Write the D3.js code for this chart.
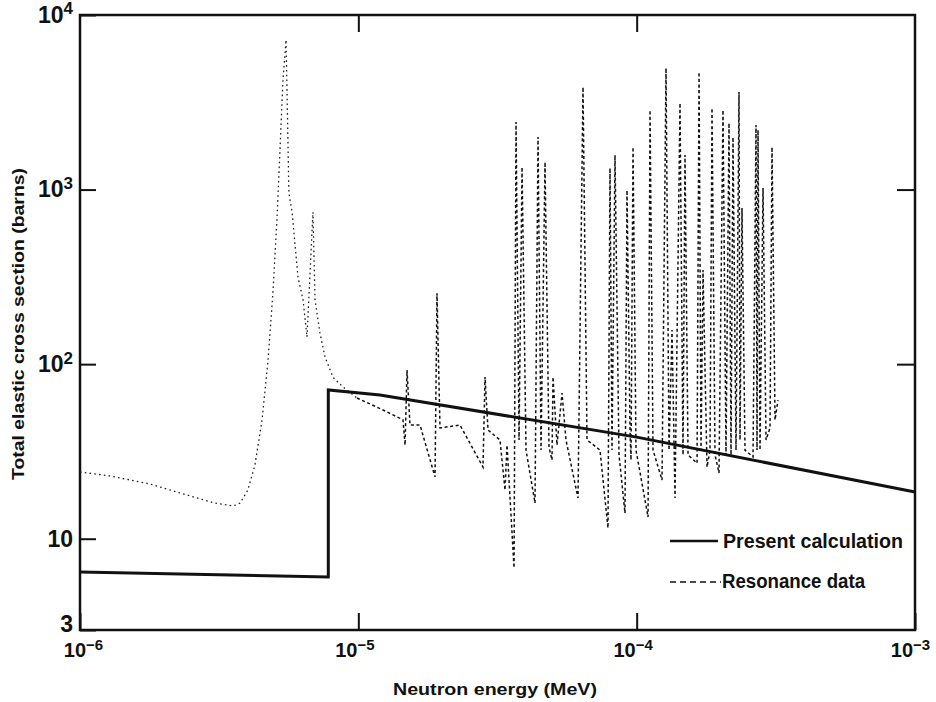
<!DOCTYPE html>
<html>
<head>
<meta charset="utf-8">
<script src="https://cdn.jsdelivr.net/npm/d3@7"></script>
<style>
  body { margin: 0; background: #fff; }
  text { font-family: "Liberation Sans", Arial, sans-serif; font-weight: bold; fill: #111; }
</style>
</head>
<body>
<div id="chart"></div>
<script>
// tick values and labels [base, exponent]
const xTicks = [1e-6, 1e-5, 1e-4, 1e-3];
const xTickLabels = [['10', '\u22126'], ['10', '\u22125'], ['10', '\u22124'], ['10', '\u22123']];
const yTicks = [3, 10, 100, 1000, 10000];
const yTickLabels = [['3', ''], ['10', ''], ['10', '2'], ['10', '3'], ['10', '4']];

// present calculation (MeV, barns)
const calcEnergy = [1e-6, 7.8e-6, 7.8e-6, 1.196e-5, 1e-4, 1e-3];
const calcSigma = [6.45, 6.03, 71.1, 66.5, 38.2, 18.5];

// resonance data, low energy part (MeV, barns)
const resonanceLow = [
  [1.00e-6, 24.1], [1.28e-6, 22.9], [1.78e-6, 20.6], [2.48e-6, 17.6], [3.05e-6, 16.0],
  [3.55e-6, 15.4], [3.76e-6, 16.0], [4.01e-6, 19.0], [4.25e-6, 26.4], [4.51e-6, 48],
  [4.74e-6, 106], [4.94e-6, 266], [5.10e-6, 670], [5.23e-6, 1680], [5.36e-6, 4240],
  [5.50e-6, 7200], [5.63e-6, 955], [5.78e-6, 743], [6.07e-6, 315], [6.33e-6, 233],
  [6.54e-6, 143], [6.87e-6, 743], [6.99e-6, 233], [7.28e-6, 151], [7.59e-6, 110],
  [8.11e-6, 84], [8.81e-6, 74], [9.89e-6, 64]
];

// resonance data, resolved resonance region (MeV, barns)
const resonanceHigh = [
  [9.89e-6, 64], [1.227e-5, 54.6], [1.447e-5, 48],
  [1.472e-5, 34.4], [1.496e-5, 92.5], [1.533e-5, 44.8], [1.666e-5, 44.8],
  [1.886e-5, 22.6], [1.917e-5, 255], [1.965e-5, 43.1], [2.319e-5, 44.8],
  [2.805e-5, 25.7], [2.852e-5, 84.4], [2.924e-5, 41.9], [3.228e-5, 36.8],
  [3.365e-5, 19.0], [3.421e-5, 34.4],
  [3.626e-5, 6.8], [3.686e-5, 2435], [3.779e-5, 36.8],
  [3.874e-5, 1345], [4.004e-5, 32.2],
  [4.313e-5, 16.0], [4.422e-5, 1998], [4.533e-5, 32.2],
  [4.685e-5, 1437], [4.842e-5, 33.5],
  [4.964e-5, 28.2], [5.005e-5, 84.4], [5.174e-5, 34.4],
  [5.393e-5, 68.3], [5.573e-5, 36.8],
  [6.155e-5, 17.1], [6.415e-5, 3865], [6.631e-5, 36.8], [7.383e-5, 32.2],
  [7.888e-5, 11.5], [8.020e-5, 1328], [8.154e-5, 32.2],
  [8.359e-5, 1576], [8.640e-5, 30.2],
  [9.080e-5, 14.0], [9.232e-5, 993], [9.464e-5, 41.9],
  [9.543e-5, 28.2], [9.703e-5, 1751], [9.946e-5, 32.2],
  [1.0986e-4, 13.3], [1.1169e-4, 2853], [1.1450e-4, 32.2],
  [1.2333e-4, 21.7], [1.2748e-4, 4965], [1.3069e-4, 32.2],
  [1.3398e-4, 157], [1.3735e-4, 17.1], [1.4313e-4, 3129], [1.4672e-4, 30.2],
  [1.4917e-4, 1576], [1.5293e-4, 30.2],
  [1.6479e-4, 27.1], [1.6754e-4, 4710], [1.7029e-4, 32.2],
  [1.7313e-4, 346], [1.7895e-4, 25.7], [1.8345e-4, 32.2],
  [1.8651e-4, 2930], [1.9119e-4, 30.2],
  [1.9762e-4, 23.8], [2.0427e-4, 2853], [2.0939e-4, 30.2],
  [2.1466e-4, 2404], [2.1824e-4, 30.2],
  [2.2189e-4, 1998], [2.2746e-4, 32.2],
  [2.3317e-4, 3618], [2.3510e-4, 36.8],
  [2.3902e-4, 784], [2.4502e-4, 32.2],
  [2.6183e-4, 29.4], [2.6841e-4, 2341], [2.7064e-4, 32.2],
  [2.7289e-4, 2192], [2.7745e-4, 32.2],
  [2.8442e-4, 1020], [2.9157e-4, 36.8],
  [3.0138e-4, 43.1], [3.0640e-4, 1751], [3.1409e-4, 47.9], [3.2198e-4, 62.3]
];

const legendLabels = ['Present calculation', 'Resonance data'];

const width = 936, height = 702;
const margin = { top: 15, left: 80, bottom: 72, right: 21 };

// scales
const x = d3.scaleLog().domain([1e-6, 1e-3]).range([margin.left, width - margin.right]);
const y = d3.scaleLog().domain([3, 1e4]).range([height - margin.bottom, margin.top]);

const svg = d3.select('#chart').append('svg')
  .attr('width', width)
  .attr('height', height);

const line = d3.line()
  .x(d => x(d[0]))
  .y(d => y(d[1]));

// turn tick text into base + superscript
function supLabels(g, ticks, labels, size, supSize) {
  g.selectAll('.tick text').each(function (d) {
    const lab = labels[ticks.indexOf(d)];
    const t = d3.select(this).text(null)
      .attr('font-size', size)
      .attr('font-family', '"Liberation Sans", Arial, sans-serif')
      .attr('font-weight', 'bold')
      .attr('fill', '#111');
    t.append('tspan').text(lab[0]);
    if (lab[1]) t.append('tspan').attr('dy', '-0.5em').attr('font-size', supSize).text(lab[1]);
  });
}

// axes
const gx = svg.append('g')
  .attr('transform', `translate(0,${height - margin.bottom})`)
  .call(d3.axisBottom(x).tickValues(xTicks).tickSizeInner(-17).tickSizeOuter(0).tickPadding(13))
  .call(g => g.select('.domain').remove());
supLabels(gx, xTicks, xTickLabels, 20, 15);
gx.selectAll('.tick text').attr('dx', d => d === 1e-6 ? 3 : (d === 1e-3 ? -5 : -4));

const gy = svg.append('g')
  .attr('transform', `translate(${margin.left},0)`)
  .call(d3.axisLeft(y).tickValues(yTicks).tickSizeInner(-16).tickSizeOuter(0).tickPadding(7))
  .call(g => g.select('.domain').remove());
supLabels(gy, yTicks, yTickLabels, 23, 17);
gy.selectAll('.tick text').filter(d => d === 3).attr('y', -6);

svg.append('g')
  .attr('transform', `translate(0,${margin.top})`)
  .call(d3.axisTop(x).tickValues(xTicks.slice(1, 3)).tickSizeInner(-17).tickSizeOuter(0).tickFormat(''))
  .call(g => g.select('.domain').remove());

svg.append('g')
  .attr('transform', `translate(${width - margin.right},0)`)
  .call(d3.axisRight(y).tickValues(yTicks.slice(2, 4)).tickSizeInner(-18).tickSizeOuter(0).tickFormat(''))
  .call(g => g.select('.domain').remove());

svg.selectAll('.tick line').attr('stroke', '#111').attr('stroke-width', 2);

// frame
svg.append('rect')
  .attr('x', margin.left)
  .attr('y', margin.top)
  .attr('width', width - margin.left - margin.right)
  .attr('height', height - margin.top - margin.bottom)
  .attr('fill', 'none')
  .attr('stroke', '#111')
  .attr('stroke-width', 2.5);

// resonance data
svg.append('path')
  .datum(resonanceLow)
  .attr('d', line)
  .attr('fill', 'none')
  .attr('stroke', '#222')
  .attr('stroke-width', 1.3)
  .attr('stroke-dasharray', '1.6,3.2');

svg.append('path')
  .datum(resonanceHigh)
  .attr('d', line)
  .attr('fill', 'none')
  .attr('stroke', '#111')
  .attr('stroke-width', 1.5)
  .attr('stroke-dasharray', '3,2.6');

// present calculation
svg.append('path')
  .datum(calcEnergy.map((e, i) => [e, calcSigma[i]]))
  .attr('d', line)
  .attr('fill', 'none')
  .attr('stroke', '#111')
  .attr('stroke-width', 3)
  .attr('stroke-linejoin', 'miter');

// legend
const legend = svg.append('g');
legend.append('line')
  .attr('x1', 670).attr('x2', 718).attr('y1', 541).attr('y2', 541)
  .attr('stroke', '#111').attr('stroke-width', 2.5);
legend.append('text')
  .attr('x', 723).attr('y', 548)
  .attr('font-size', 20)
  .attr('textLength', 180).attr('lengthAdjust', 'spacingAndGlyphs')
  .text(legendLabels[0]);
legend.append('line')
  .attr('x1', 670).attr('x2', 721).attr('y1', 582).attr('y2', 582)
  .attr('stroke', '#111').attr('stroke-width', 1.4)
  .attr('stroke-dasharray', '6,4');
legend.append('text')
  .attr('x', 722).attr('y', 588)
  .attr('font-size', 20)
  .attr('textLength', 143).attr('lengthAdjust', 'spacingAndGlyphs')
  .text(legendLabels[1]);

// axis titles
svg.append('text')
  .attr('x', 495).attr('y', 695)
  .attr('text-anchor', 'middle')
  .attr('font-size', 17)
  .attr('textLength', 204).attr('lengthAdjust', 'spacingAndGlyphs')
  .text('Neutron energy (MeV)');

svg.append('text')
  .attr('transform', 'translate(24,324) rotate(-90)')
  .attr('text-anchor', 'middle')
  .attr('font-size', 17)
  .attr('textLength', 312).attr('lengthAdjust', 'spacingAndGlyphs')
  .text('Total elastic cross section (barns)');
</script>
</body>
</html>
